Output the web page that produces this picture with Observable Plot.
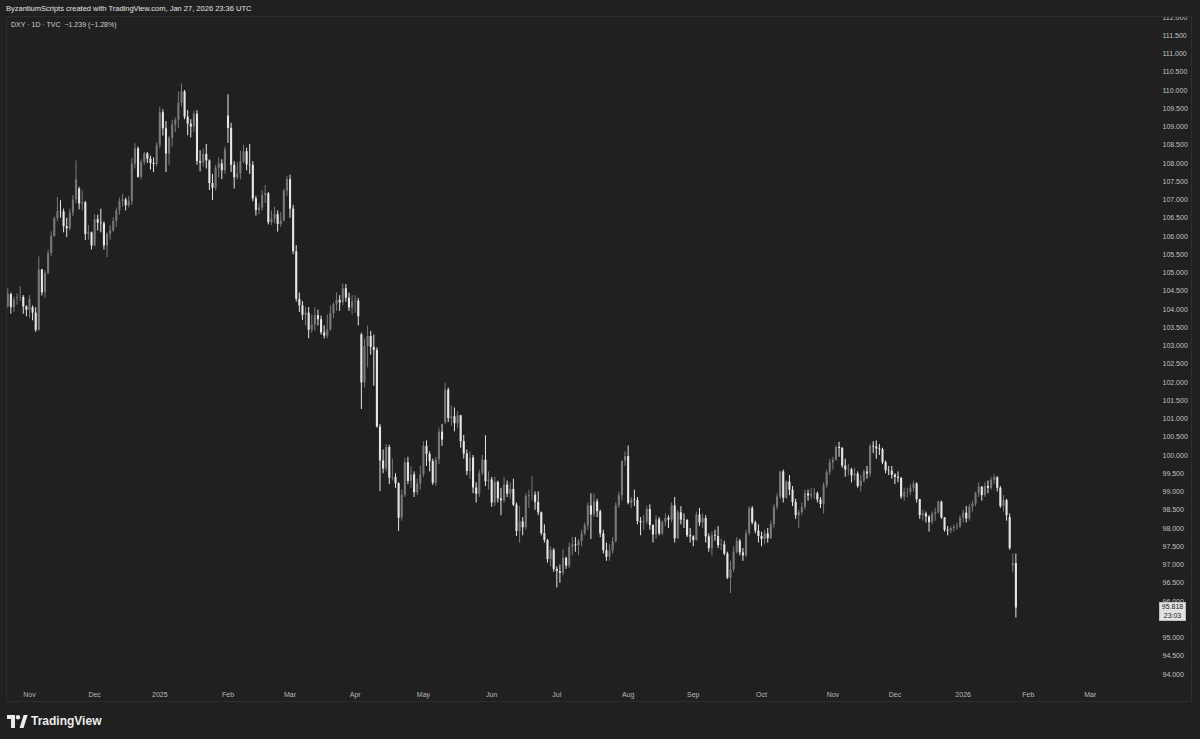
<!DOCTYPE html>
<html>
<head>
<meta charset="utf-8">
<script src="https://cdn.jsdelivr.net/npm/d3@7"></script>
<script src="https://cdn.jsdelivr.net/npm/@observablehq/plot@0.6"></script>
<style>
  html, body { margin: 0; padding: 0; background: #202020; }
  #wrap { position: relative; width: 1200px; height: 739px; overflow: hidden; background: #202020; font-family: "Liberation Sans", Arial, sans-serif; }
  #chart { position: absolute; left: 0; top: 0; }
  .abs { position: absolute; white-space: nowrap; }
</style>
</head>
<body>
<div id="wrap">
  <div id="chart"></div>
  <div class="abs" style="left:0;top:0;width:1200px;height:17px;background:#202020;"></div>
  <div class="abs" style="left:6px;top:16px;width:1186px;height:686px;border:1px solid #2d2d2d;box-sizing:border-box;"></div>
  <div class="abs" id="h1" style="left:6px;top:4px;font-size:7.5px;line-height:10px;color:#e2e2e2;"></div>
  <div class="abs" id="h2" style="left:11px;top:20px;font-size:7px;line-height:10px;color:#cfcfcf;"></div>
  <div class="abs" id="last" style="left:1159px;width:27px;height:19px;background:#e2e2e2;border:1px solid #bdbdbd;box-sizing:border-box;color:#1c1c1c;font-size:7px;line-height:8.5px;text-align:center;padding-top:0.5px;"></div>
  <div class="abs" id="logo" style="left:7px;top:713px;height:16px;display:flex;align-items:center;gap:3px;">
    <svg width="21" height="13" viewBox="0 0 21 13">
      <path d="M0 0 H8 V13 H4 V4 H0 Z" fill="#ececec"/>
      <circle cx="11" cy="2.2" r="2.2" fill="#ececec"/>
      <path d="M12.6 13 L16.6 0 H20.6 L16.6 13 Z" fill="#ececec"/>
    </svg>
    <span id="logotext" style="font-size:12px;font-weight:bold;color:#ececec;line-height:16px;"></span>
  </div>
</div>
<script>
// ---- Data: DXY daily candles, 2024-10-23 .. 2026-01-27 (bar index 0..325) ----
const headerText = "ByzantiumScripts created with TradingView.com, Jan 27, 2026 23:36 UTC";
const symbolText = "DXY \u00b7 1D \u00b7 TVC \u00a0\u22121.239 (\u22121.28%)";
const lastPriceText = "95.818";
const countdownText = "23:03";
const logoText = "TradingView";

const monthStarts = [7, 28, 49, 71, 91, 112, 134, 156, 177, 200, 221, 243, 266, 286, 308, 329, 349];
const monthLabels = ["Nov", "Dec", "2025", "Feb", "Mar", "Apr", "May", "Jun", "Jul", "Aug", "Sep", "Oct", "Nov", "Dec", "2026", "Feb", "Mar"];
// price ticks every 0.5; 95.500 is hidden behind the last-price label in the reference
const priceTicks = [94, 94.5, 95, 96, 96.5, 97, 97.5, 98, 98.5, 99, 99.5, 100, 100.5, 101, 101.5, 102, 102.5, 103, 103.5, 104, 104.5, 105, 105.5, 106, 106.5, 107, 107.5, 108, 108.5, 109, 109.5, 110, 110.5, 111, 111.5, 112];

const open = [
  104.08,104.41,104.05,104.30,104.32,104.33,104.07,
  103.98,104.05,103.90,103.43,105.08,104.46,104.99,105.53,106.00,106.49,106.68,106.67,106.27,106.21,106.64,107.00,107.30,106.89,106.92,106.06,106.10,
  105.74,106.46,106.37,106.35,105.74,106.06,106.16,106.41,106.70,106.96,107.00,106.84,106.96,107.98,108.40,107.62,108.03,108.26,108.12,108.00,107.97,
  108.49,109.39,108.95,108.26,108.69,109.05,109.18,109.65,109.96,109.27,109.08,109.00,109.35,108.05,108.01,108.25,108.07,107.45,107.32,107.87,107.99,107.80,
  109.30,108.96,107.95,107.61,107.71,108.04,108.32,107.96,107.95,107.03,106.71,106.78,107.12,107.17,106.38,106.47,106.60,106.33,106.42,107.24,
  107.56,106.75,105.58,104.28,104.10,103.84,103.90,103.43,103.57,103.83,103.72,103.36,103.27,103.44,103.89,104.13,104.25,104.18,104.57,104.31,104.04,
  104.21,104.23,103.30,101.99,102.99,103.26,102.96,102.88,100.78,99.85,99.63,100.22,99.38,99.40,99.23,98.28,98.91,99.80,99.29,99.47,98.98,99.22,
  99.47,100.25,100.03,99.83,99.24,99.88,100.64,100.90,101.79,101.01,101.06,100.87,101.09,100.38,100.04,99.56,99.93,99.11,98.94,99.51,99.87,99.28,
  99.33,98.70,99.26,98.81,98.76,99.19,98.94,99.07,98.64,97.92,98.18,98.02,98.87,98.90,98.91,98.71,98.43,97.86,97.67,97.15,97.40,
  96.88,96.82,96.77,97.18,96.97,97.48,97.55,97.53,97.65,97.85,98.08,98.62,98.37,98.73,98.46,97.85,97.39,97.21,97.38,97.64,98.63,98.90,99.84,
  99.97,98.69,98.78,98.77,98.19,98.16,98.18,98.52,98.08,97.82,98.24,97.85,98.17,98.28,98.23,98.62,97.72,98.43,98.23,98.22,97.80,
  97.77,97.67,98.37,98.15,98.27,97.77,97.45,97.80,97.78,97.53,97.55,97.30,96.64,96.87,97.35,97.65,97.33,97.25,97.86,98.55,98.15,97.93,
  97.78,97.70,97.85,97.72,98.11,98.58,98.86,99.55,98.83,99.27,99.05,98.71,98.35,98.43,98.58,98.95,98.89,98.93,98.95,98.78,98.66,99.17,99.53,
  99.80,99.87,100.22,100.19,99.71,99.60,99.61,99.44,99.49,99.15,99.30,99.55,99.49,100.25,100.23,100.18,100.16,99.80,99.58,99.57,
  99.46,99.40,99.37,98.86,98.98,98.99,99.10,99.22,98.79,98.35,98.40,98.31,98.16,98.39,98.43,98.72,98.29,97.95,97.93,98.00,98.03,98.05,
  98.28,98.42,98.26,98.58,98.67,98.95,99.13,98.90,99.15,99.10,99.32,99.39,99.10,98.60,98.76,98.30,96.98,97.04
];
const high = [
  104.57,104.45,104.33,104.43,104.63,104.38,104.10,
  104.38,104.10,104.05,105.44,105.10,105.06,105.63,106.13,106.53,107.07,106.98,106.75,106.50,106.75,107.12,108.07,107.35,107.25,106.96,106.30,106.12,
  106.60,106.59,106.75,106.40,106.10,106.30,106.52,106.78,107.05,107.15,107.05,107.10,108.14,108.54,108.45,108.10,108.30,108.30,108.20,108.15,108.57,
  109.54,109.47,109.15,108.75,109.18,109.25,109.96,110.18,110.00,109.45,109.20,109.43,109.45,108.35,108.40,108.52,108.10,107.70,107.95,108.15,108.10,108.45,
  109.88,109.10,108.05,108.02,108.34,108.50,108.42,108.52,108.05,107.10,106.90,107.25,107.40,107.20,106.70,106.80,106.70,106.65,107.30,107.65,
  107.68,106.85,105.75,104.45,104.22,104.05,104.05,103.85,104.05,103.98,103.82,103.55,103.85,104.10,104.18,104.45,104.38,104.70,104.68,104.45,104.38,
  104.38,104.30,103.35,103.20,103.55,103.40,103.30,102.95,100.85,100.15,100.30,100.28,99.90,99.50,99.25,99.05,99.92,99.95,99.70,99.55,99.35,99.70,
  100.38,100.40,100.10,99.90,99.95,100.75,100.85,101.98,101.85,101.35,101.30,101.20,101.10,100.55,100.15,100.10,100.00,99.25,99.60,100.00,100.54,99.55,
  99.40,99.40,99.30,99.10,99.40,99.30,99.25,99.35,98.70,98.60,98.30,98.95,99.05,99.42,99.00,99.00,98.45,98.10,97.70,97.50,97.45,
  96.95,97.00,97.42,97.22,97.60,97.75,97.75,97.70,97.95,98.15,98.70,98.95,98.95,98.80,98.50,97.95,97.60,97.55,97.75,98.70,99.00,99.85,100.10,
  100.26,98.85,99.05,98.85,98.30,98.35,98.60,98.65,98.10,98.35,98.30,98.20,98.40,98.35,98.70,98.85,98.50,98.60,98.40,98.25,98.00,
  97.80,98.45,98.55,98.40,98.35,97.85,97.90,97.95,98.05,97.70,97.65,97.35,97.10,97.50,97.75,97.70,97.45,97.95,98.60,98.60,98.20,98.10,
  97.90,97.95,98.00,98.20,98.65,98.95,99.56,99.60,99.30,99.45,99.15,98.80,98.50,98.70,99.05,99.05,99.10,99.10,99.00,98.85,99.25,99.60,99.90,
  99.95,100.26,100.36,100.22,99.90,99.75,99.65,99.65,99.55,99.45,99.60,99.70,100.30,100.38,100.40,100.30,100.20,99.85,99.70,99.70,
  99.50,99.55,99.40,99.10,99.10,99.20,99.30,99.25,98.80,98.50,98.45,98.35,98.45,98.55,98.75,98.75,98.30,98.05,98.05,98.10,98.15,98.35,
  98.50,98.60,98.65,98.75,99.00,99.25,99.15,99.25,99.30,99.40,99.48,99.42,99.15,98.90,98.80,98.40,97.30,97.30
];
const low = [
  104.03,103.87,103.92,104.12,104.22,103.87,103.80,
  103.75,103.69,103.37,103.40,104.37,104.30,104.95,105.45,105.98,106.40,106.50,106.10,105.97,106.15,106.55,106.90,106.73,106.70,105.89,105.90,105.63,
  105.72,106.15,106.10,105.63,105.42,105.90,106.10,106.25,106.58,106.80,106.70,106.78,106.85,107.85,107.60,107.55,107.95,108.00,107.82,107.75,107.90,
  108.40,108.75,107.75,107.95,108.45,108.85,108.95,109.55,109.20,108.76,108.70,108.85,107.95,107.77,107.90,107.85,107.26,106.99,107.25,107.60,107.56,107.70,
  108.55,107.75,107.30,107.55,107.55,108.00,107.80,107.70,106.95,106.56,106.60,106.70,106.90,106.32,106.30,106.35,106.12,106.25,106.40,107.10,
  106.50,105.50,104.20,103.92,103.70,103.55,103.20,103.35,103.40,103.55,103.30,103.19,103.20,103.40,103.75,103.95,103.95,104.10,104.20,103.95,103.85,
  103.90,103.55,101.26,101.85,102.40,102.75,101.90,100.75,99.01,99.50,99.55,99.20,99.30,99.10,97.92,98.20,98.85,99.20,99.10,98.85,98.90,99.05,
  99.40,99.70,99.55,99.18,99.15,99.75,100.25,100.85,100.90,100.80,100.65,100.75,100.20,99.90,99.45,99.35,98.95,98.70,98.85,99.45,99.15,99.05,
  98.58,98.60,98.70,98.35,98.70,98.85,98.80,98.60,97.78,97.60,97.80,97.95,98.55,98.75,98.50,98.35,97.80,97.60,97.05,96.95,96.80,
  96.37,96.50,96.70,96.88,96.90,97.25,97.35,97.25,97.50,97.80,97.95,97.70,98.30,98.30,97.75,97.30,97.10,97.10,97.30,97.60,98.55,98.75,99.70,
  98.65,98.55,98.60,98.10,97.80,97.95,98.10,97.95,97.60,97.70,97.80,97.80,98.05,98.00,98.15,97.60,97.70,98.10,98.00,97.75,97.60,
  97.50,97.65,98.05,98.00,97.60,97.35,97.25,97.65,97.45,97.40,97.25,96.60,96.22,96.80,97.30,97.25,97.10,97.20,97.80,98.10,97.85,97.60,
  97.50,97.55,97.60,97.70,98.00,98.50,98.80,98.70,98.80,98.90,98.60,98.25,98.00,98.35,98.50,98.75,98.80,98.80,98.70,98.55,98.40,99.10,99.45,
  99.60,99.85,99.95,99.65,99.40,99.45,99.25,99.30,99.10,99.00,99.25,99.35,99.40,100.05,99.90,100.00,99.75,99.50,99.45,99.35,
  99.20,99.25,98.80,98.75,98.85,98.90,99.00,98.70,98.25,98.20,98.15,97.90,98.10,98.20,98.40,98.25,97.90,97.80,97.85,97.90,97.95,98.00,
  98.15,98.15,98.20,98.45,98.60,98.85,98.75,98.85,98.95,99.05,99.20,99.00,98.55,98.45,98.20,97.40,96.78,95.55
];
const close = [
  104.41,104.05,104.26,104.32,104.33,104.07,103.98,
  104.28,103.90,103.43,105.08,104.46,104.99,105.53,106.00,106.49,106.68,106.67,106.27,106.21,106.64,107.00,107.55,106.89,106.92,106.06,106.10,105.74,
  106.46,106.37,106.35,105.74,106.06,106.16,106.41,106.70,106.96,107.00,106.84,106.96,107.98,108.40,107.62,108.03,108.26,108.12,108.00,107.97,108.49,
  109.39,108.95,108.26,108.69,109.05,109.18,109.65,109.96,109.27,109.08,109.00,109.35,108.05,108.01,108.25,108.07,107.45,107.32,107.87,107.99,107.80,108.37,
  108.96,107.95,107.61,107.71,108.04,108.32,107.96,107.95,107.03,106.71,106.78,107.12,107.17,106.38,106.47,106.60,106.33,106.42,107.24,107.56,
  106.75,105.58,104.28,104.10,103.84,103.90,103.43,103.57,103.83,103.72,103.36,103.27,103.44,103.89,104.13,104.25,104.18,104.57,104.31,104.04,104.21,
  104.23,103.80,101.99,102.99,103.26,102.96,102.88,100.78,99.85,99.63,100.22,99.38,99.40,99.23,98.28,98.91,99.80,99.29,99.47,98.98,99.22,99.47,
  100.25,100.03,99.83,99.24,99.88,100.64,100.42,101.79,101.01,101.06,100.87,101.09,100.38,100.04,99.56,99.93,99.11,98.94,99.51,99.87,99.28,99.33,
  98.70,99.26,98.81,98.76,99.19,98.94,99.07,98.64,97.92,98.18,98.02,98.87,98.90,98.91,98.71,98.43,97.86,97.67,97.15,97.40,96.88,
  96.82,96.77,97.18,96.97,97.48,97.55,97.53,97.65,97.85,98.08,98.62,98.37,98.73,98.46,97.85,97.39,97.21,97.38,97.64,98.63,98.90,99.84,99.97,
  98.69,98.78,98.77,98.19,98.16,98.18,98.52,98.08,97.82,98.24,97.85,98.17,98.28,98.23,98.62,97.72,98.43,98.23,98.22,97.80,97.77,
  97.67,98.37,98.15,98.27,97.77,97.45,97.80,97.78,97.53,97.55,97.30,96.64,96.87,97.35,97.65,97.33,97.25,97.86,98.55,98.15,97.93,97.78,
  97.70,97.85,97.72,98.11,98.58,98.86,99.55,98.83,99.27,99.05,98.71,98.35,98.43,98.58,98.95,98.89,98.93,98.95,98.78,98.66,99.17,99.53,99.80,
  99.87,100.22,100.19,99.71,99.60,99.61,99.44,99.49,99.15,99.30,99.55,99.49,100.25,100.23,100.18,100.16,99.80,99.58,99.57,99.46,
  99.40,99.37,98.86,98.98,98.99,99.10,99.22,98.79,98.35,98.40,98.31,98.16,98.39,98.43,98.72,98.29,97.95,97.93,98.00,98.03,98.05,98.28,
  98.42,98.26,98.58,98.67,98.95,99.13,98.90,99.15,99.10,99.32,99.39,99.10,98.60,98.76,98.35,97.45,97.04,95.82
];

// ---- build table ----
const upColor = "#787878";
const downColor = "#e6e6e6";
const bars = close.map((c, i) => ({i, open: open[i], high: high[i], low: low[i], close: c}));
const colorOf = d => d.close >= d.open ? upColor : downColor;

const chart = Plot.plot({
  width: 1200,
  height: 739,
  marginLeft: 6,
  marginRight: 50,
  marginTop: 14,
  marginBottom: 56,
  style: {background: "#202020", color: "#bdbdbd", fontSize: "7px", fontFamily: "'Liberation Sans', Arial, sans-serif"},
  x: {domain: [-0.41, 368.4], axis: null},
  y: {domain: [93.753, 112.082], axis: null},
  color: {type: "identity"},
  marks: [
    Plot.axisY(priceTicks, {anchor: "right", tickSize: 0, tickPadding: 12, tickFormat: d => d.toFixed(3), label: null, fill: "#c2c2c2"}),
    Plot.axisX(monthStarts, {anchor: "bottom", tickSize: 0, tickPadding: 9, tickFormat: (d, i) => monthLabels[monthStarts.indexOf(d)], label: null, fill: "#b8b8b8"}),
    Plot.ruleX(bars, {x: "i", y1: "low", y2: "high", stroke: colorOf, strokeWidth: 1}),
    Plot.ruleX(bars, {x: "i", y1: "open", y2: "close", stroke: colorOf, strokeWidth: 2.1})
  ]
});
document.getElementById("chart").appendChild(chart);

document.getElementById("h1").textContent = headerText;
document.getElementById("h2").textContent = symbolText;
document.getElementById("logotext").textContent = logoText;

const yLast = chart.scale("y").apply(close[close.length - 1]);
const lastBox = document.getElementById("last");
lastBox.style.top = (yLast - 6) + "px";
lastBox.innerHTML = "<div>" + lastPriceText + "</div><div>" + countdownText + "</div>";
</script>
</body>
</html>
